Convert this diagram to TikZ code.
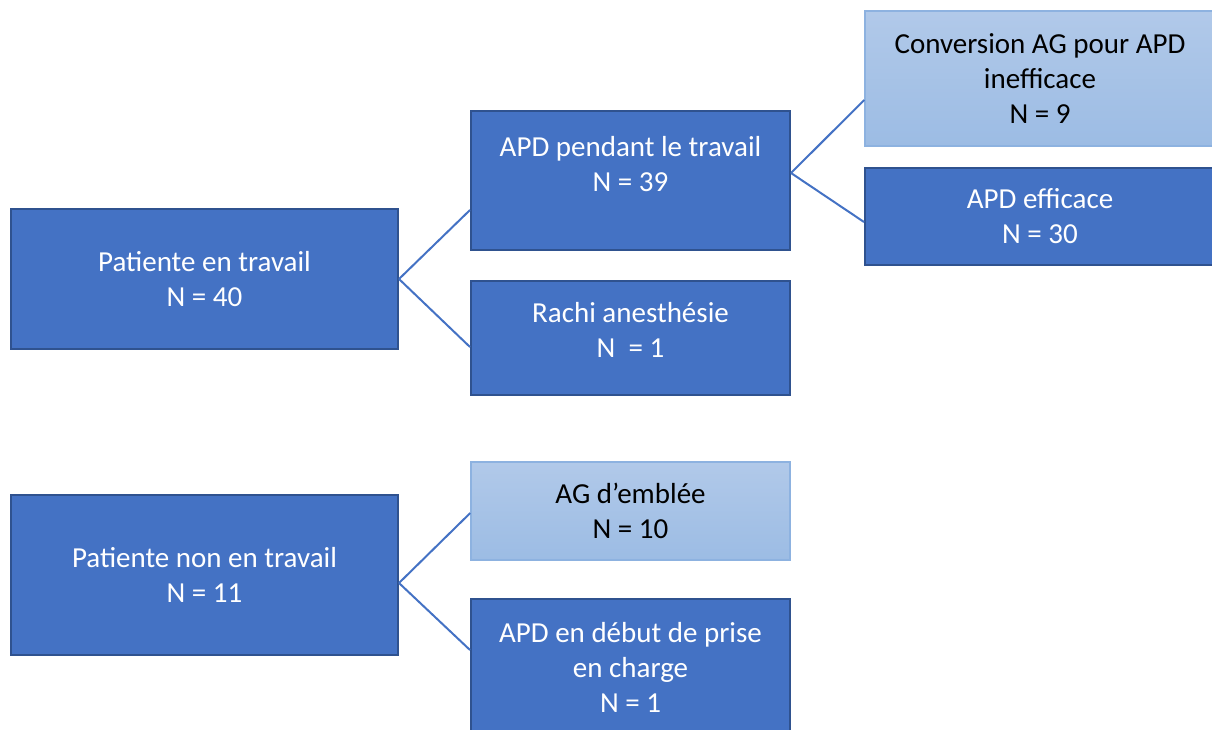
\documentclass[tikz,border=0pt]{standalone}
\usepackage{fontspec}
\setmainfont{Carlito}
\definecolor{darkfill}{HTML}{4472C4}
\definecolor{darkborder}{HTML}{2F528F}
\definecolor{lighttop}{HTML}{B1C9E9}
\definecolor{lightbot}{HTML}{9CBCE4}
\definecolor{lightborder}{HTML}{8DB2E0}
\tikzset{
  box/.style={rectangle, inner sep=0pt, align=center, font=\fontsize{29}{35}\selectfont},
  darkbox/.style={box, fill=darkfill, draw=darkborder, line width=2pt, text=white},
  lightbox/.style={box, top color=lighttop, bottom color=lightbot, draw=lightborder, line width=1.5pt, text=black},
  txt/.style={inner sep=0pt, align=center, font=\fontsize{29}{35}\selectfont},
  conn/.style={draw=darkfill, line width=2pt},
}
\begin{document}
\begin{tikzpicture}[x=1pt,y=-1pt]
\useasboundingbox (0,0) rectangle (1212,729);
% first tree
\node[darkbox, minimum width=387pt, minimum height=140pt] (pt) at (204.5,279) {Patiente en travail\\N = 40};
\node[darkbox, minimum width=319pt, minimum height=139pt] (apd) at (630.5,180.5) {};
\node[txt, text=white] (apdtxt) at (630.5,164) {APD pendant le travail\\N = 39};
\node[darkbox, minimum width=319pt, minimum height=114pt] (rachi) at (630.5,338) {};
\node[txt, text=white] (rachitxt) at (630.5,329.5) {Rachi anesthésie\\N\ \ = 1};
\node[lightbox, minimum width=350pt, minimum height=135pt] (conv) at (1040,78.5) {Conversion AG pour APD\\inefficace\\N = 9};
\node[darkbox, minimum width=350pt, minimum height=97pt] (eff) at (1040,216.5) {APD efficace\\N = 30};
% second tree
\node[darkbox, minimum width=387pt, minimum height=160pt] (pnt) at (204.5,575) {Patiente non en travail\\N = 11};
\node[lightbox, minimum width=319pt, minimum height=98pt] (ag) at (630.5,511) {AG d’emblée\\N = 10};
\node[darkbox, minimum width=319pt, minimum height=136pt] (deb) at (630.5,667) {APD en début de prise\\en charge\\N = 1};
% connectors
\draw[conn] (pt.east) -- ([yshift=-29.5pt]apd.west);
\draw[conn] (pt.east) -- ([yshift=-9pt]rachi.west);
\draw[conn] ([yshift=7.5pt]apd.east) -- ([yshift=-21.5pt]conv.west);
\draw[conn] ([yshift=7.5pt]apd.east) -- ([yshift=-5.5pt]eff.west);
\draw[conn] ([yshift=-8pt]pnt.east) -- ([yshift=-2pt]ag.west);
\draw[conn] ([yshift=-8pt]pnt.east) -- ([yshift=17pt]deb.west);
\end{tikzpicture}
\end{document}
